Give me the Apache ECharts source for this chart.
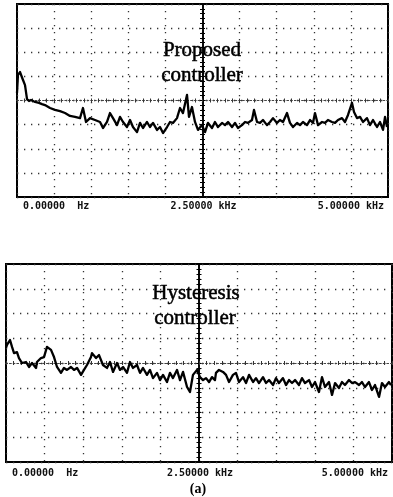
<!DOCTYPE html>
<html>
<head>
<meta charset="utf-8">
<script src="https://cdn.jsdelivr.net/npm/echarts@6/dist/echarts.min.js"></script>
<style>
html,body{margin:0;padding:0;background:#fff;}
#chart{width:393px;height:497px;}
</style>
</head>
<body>
<div id="chart"></div>
<script>
// Frequency axis ticks (kHz) and their labels
const tickValues = [0, 2.5, 5];
const tickLabels = ['0.00000  Hz', '2.50000 kHz', '5.00000 kHz'];

// Panel captions
const topCaption = ['Proposed', 'controller'];
const bottomCaption = ['Hysteresis', 'controller'];
const figureLabel = '(a)';

// Proposed controller spectrum: frequency (kHz) and level (dB, 10 dB/div)
const topFreq = [
  0.000, 0.013, 0.040, 0.054, 0.081, 0.108, 0.135, 0.162, 0.189, 0.243,
  0.296, 0.337, 0.377, 0.445, 0.512, 0.580, 0.647, 0.714, 0.782, 0.849,
  0.889, 0.930, 0.984, 1.051, 1.119, 1.159, 1.213, 1.253, 1.294, 1.348,
  1.388, 1.429, 1.482, 1.523, 1.563, 1.617, 1.658, 1.698, 1.752, 1.792,
  1.833, 1.887, 1.927, 1.968, 2.022, 2.062, 2.102, 2.156, 2.197, 2.237,
  2.291, 2.318, 2.358, 2.399, 2.439, 2.493, 2.534, 2.574, 2.628, 2.668,
  2.709, 2.763, 2.803, 2.844, 2.898, 2.938, 2.978, 3.032, 3.073, 3.113,
  3.167, 3.194, 3.235, 3.275, 3.315, 3.369, 3.410, 3.450, 3.504, 3.544,
  3.585, 3.639, 3.679, 3.720, 3.774, 3.814, 3.854, 3.908, 3.949, 3.989,
  4.016, 4.057, 4.111, 4.151, 4.191, 4.245, 4.286, 4.326, 4.380, 4.420,
  4.461, 4.515, 4.542, 4.582, 4.623, 4.663, 4.717, 4.757, 4.798, 4.852,
  4.892, 4.933, 4.960, 4.987
];
const topLevel = [
  -36.9, -29.4, -28.2, -27.4, -31.5, -33.6, -39.4, -40.2, -39.8, -40.6,
  -41.0, -41.5, -41.9, -43.1, -43.9, -44.4, -45.2, -46.4, -46.8, -47.3,
  -43.1, -48.9, -47.3, -48.1, -48.9, -51.4, -48.9, -45.2, -47.3, -50.2,
  -46.8, -48.9, -51.0, -48.1, -51.0, -53.1, -49.3, -51.4, -48.9, -51.0,
  -49.3, -52.2, -51.0, -53.5, -51.0, -48.9, -49.3, -47.3, -43.1, -45.2,
  -37.7, -46.8, -42.7, -48.9, -52.2, -50.2, -53.1, -49.3, -51.4, -48.9,
  -51.0, -49.3, -50.2, -48.9, -51.0, -49.3, -51.4, -50.2, -48.9, -49.3,
  -48.1, -43.9, -48.9, -49.3, -48.1, -50.2, -48.9, -47.3, -49.3, -48.1,
  -48.9, -45.2, -49.3, -51.0, -49.3, -50.2, -48.9, -50.2, -48.1, -49.3,
  -45.2, -50.2, -48.9, -49.3, -48.1, -48.9, -49.3, -48.1, -47.3, -48.9,
  -46.0, -41.0, -44.8, -47.3, -46.8, -48.9, -47.3, -50.2, -48.1, -51.0,
  -48.9, -52.2, -46.8, -51.0
];

// Hysteresis controller spectrum: frequency (kHz) and level (dB)
const bottomFreq = [
  0.000, 0.013, 0.052, 0.078, 0.104, 0.142, 0.168, 0.207, 0.259, 0.298,
  0.337, 0.389, 0.401, 0.453, 0.492, 0.531, 0.583, 0.622, 0.661, 0.712,
  0.751, 0.790, 0.842, 0.881, 0.920, 0.972, 1.010, 1.049, 1.101, 1.114,
  1.166, 1.205, 1.256, 1.308, 1.347, 1.386, 1.438, 1.477, 1.516, 1.567,
  1.606, 1.645, 1.697, 1.736, 1.775, 1.826, 1.865, 1.904, 1.956, 1.995,
  2.034, 2.085, 2.124, 2.163, 2.215, 2.254, 2.293, 2.345, 2.383, 2.422,
  2.474, 2.513, 2.552, 2.591, 2.630, 2.668, 2.707, 2.720, 2.759, 2.811,
  2.850, 2.889, 2.940, 2.979, 3.018, 3.070, 3.109, 3.148, 3.200, 3.238,
  3.277, 3.329, 3.368, 3.407, 3.459, 3.497, 3.536, 3.588, 3.627, 3.666,
  3.705, 3.744, 3.795, 3.834, 3.873, 3.925, 3.964, 4.003, 4.054, 4.093,
  4.132, 4.184, 4.223, 4.262, 4.313, 4.352, 4.391, 4.443, 4.482, 4.521,
  4.573, 4.611, 4.650, 4.702, 4.741, 4.780, 4.832, 4.870, 4.909, 4.961,
  4.987
];
const bottomLevel = [
  -33.9, -32.7, -30.7, -33.5, -36.0, -35.6, -38.0, -40.0, -39.6, -41.6,
  -40.0, -42.0, -39.6, -38.0, -37.6, -33.5, -34.7, -37.6, -41.6, -44.0,
  -42.0, -42.8, -41.6, -42.8, -42.0, -44.8, -42.8, -40.8, -37.6, -36.0,
  -38.0, -36.8, -40.8, -42.0, -39.6, -43.6, -40.0, -42.8, -41.6, -44.0,
  -39.6, -42.0, -40.8, -44.0, -42.0, -44.8, -42.8, -46.1, -44.0, -46.9,
  -44.8, -47.7, -44.0, -46.1, -42.8, -46.9, -43.6, -49.7, -51.7, -44.8,
  -42.8, -45.7, -46.9, -46.1, -47.7, -45.7, -46.9, -44.0, -42.8, -43.6,
  -44.8, -47.7, -44.8, -44.0, -47.7, -45.7, -48.1, -44.8, -47.7, -46.1,
  -48.1, -45.7, -48.1, -46.9, -48.9, -46.1, -48.1, -46.1, -48.9, -46.9,
  -48.1, -46.9, -48.9, -46.1, -48.1, -46.9, -49.7, -47.7, -51.7, -45.7,
  -49.7, -47.7, -52.9, -48.1, -50.1, -47.7, -48.9, -46.9, -48.1, -47.7,
  -48.9, -47.7, -49.7, -47.7, -50.9, -48.9, -53.7, -48.1, -49.7, -47.7,
  -48.9
];

const zip = (xs, ys) => xs.map((x, i) => [x, ys[i]]);

const grids = [
  {left: 17, top: 4, width: 371, height: 193},
  {left: 6, top: 264, width: 386, height: 198}
];

const dotted = {color: '#333', width: 1.3, type: [1.3, 5.7]};
const labelFont = {fontFamily: 'DejaVu Sans Mono', fontWeight: 'bold', fontSize: 10, color: '#111'};

function labelFmt(v) {
  for (let i = 0; i < tickValues.length; i++) {
    if (Math.abs(v - tickValues[i]) < 1e-6) return tickLabels[i];
  }
  return '';
}

function mainX(gi, margin) {
  return {
    gridIndex: gi, type: 'value', min: 0, max: 5, interval: 0.5,
    axisLine: {show: false, onZero: false}, axisTick: {show: false},
    splitLine: {show: true, lineStyle: dotted},
    axisLabel: Object.assign({show: true, margin: margin, formatter: labelFmt,
      alignMinLabel: 'left', alignMaxLabel: 'right', padding: [0, 4, 0, 6],
      showMinLabel: true, showMaxLabel: true}, labelFont)
  };
}
function mainY(gi) {
  return {
    gridIndex: gi, type: 'value', min: -80, max: 0, interval: 10,
    axisLine: {show: false, onZero: false}, axisTick: {show: false},
    axisLabel: {show: false}, splitLine: {show: true, lineStyle: dotted}
  };
}
function centerX(gi, off, inside) {
  return {
    gridIndex: gi, type: 'value', min: 0, max: 5, interval: 0.1,
    position: 'bottom', offset: off,
    axisLine: {show: true, onZero: false, lineStyle: {color: '#444', width: 1.2, type: [1.3, 2.4]}},
    axisTick: {show: true, inside: inside, length: 2, lineStyle: {color: '#333', width: 1}},
    axisLabel: {show: false}, splitLine: {show: false}
  };
}
function centerY(gi, off, inside) {
  return {
    gridIndex: gi, type: 'value', min: -80, max: 0, interval: 2,
    position: 'left', offset: off,
    axisLine: {show: true, onZero: false, lineStyle: {color: '#000', width: 1.6}},
    axisTick: {show: true, inside: inside, length: 2.5, lineStyle: {color: '#000', width: 1}},
    axisLabel: {show: false}, splitLine: {show: false}
  };
}

const serif = 'Liberation Serif, Times New Roman, serif';
function caption(text, x, y) {
  return {type: 'text', x: x, y: y, z: 100,
    style: {text: text, font: '21px ' + serif, fill: '#000', stroke: '#000', lineWidth: 0.5,
      align: 'center', verticalAlign: 'middle'}};
}

const chart = echarts.init(document.getElementById('chart'), null, {renderer: 'canvas'});
chart.setOption({
  animation: false,
  backgroundColor: '#fff',
  grid: grids.map(g => Object.assign({show: true, borderColor: '#000', borderWidth: 2, backgroundColor: 'transparent'}, g)),
  xAxis: [
    mainX(0, 4), mainX(1, 6),
    centerX(0, -96.5, false), centerX(0, -96.5, true),
    centerX(1, -99, false), centerX(1, -99, true)
  ],
  yAxis: [
    mainY(0), mainY(1),
    centerY(0, -185.5, false), centerY(0, -185.5, true),
    centerY(1, -193, false), centerY(1, -193, true)
  ],
  series: [
    {type: 'line', xAxisIndex: 0, yAxisIndex: 0, data: zip(topFreq, topLevel),
      showSymbol: false, symbol: 'none', lineStyle: {color: '#000', width: 2.3, join: 'round'}, z: 10},
    {type: 'line', xAxisIndex: 1, yAxisIndex: 1, data: zip(bottomFreq, bottomLevel),
      showSymbol: false, symbol: 'none', lineStyle: {color: '#000', width: 2.3, join: 'round'}, z: 10}
  ],
  graphic: [
    caption(topCaption[0], 202, 50),
    caption(topCaption[1], 202, 75),
    caption(bottomCaption[0], 196, 293),
    caption(bottomCaption[1], 195, 318),
    {type: 'text', x: 198, y: 489, z: 100,
      style: {text: figureLabel, font: 'bold 14px ' + serif, fill: '#000', align: 'center', verticalAlign: 'middle'}}
  ]
});
</script>
</body>
</html>
